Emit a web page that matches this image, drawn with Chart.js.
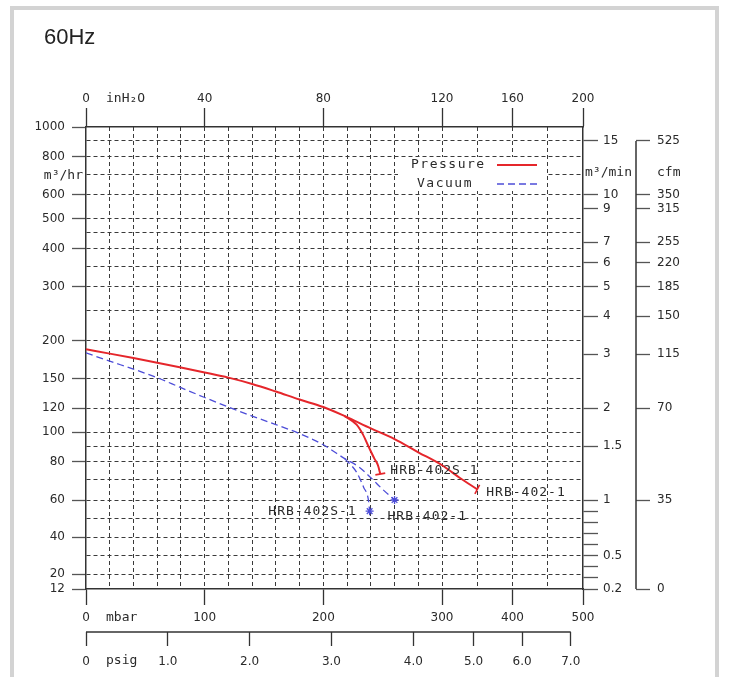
<!DOCTYPE html>
<html><head><meta charset="utf-8">
<script src="https://cdn.jsdelivr.net/npm/chart.js@4/dist/chart.umd.min.js"></script>
<style>html,body{margin:0;padding:0;background:#fff;} canvas{display:block;}</style>
</head><body>
<canvas id="c" width="729" height="677"></canvas>
<script>
// ---------- data ----------
const titleText = '60Hz';
const mbarGrid = [0,20,40,60,80,100,120,140,160,180,200,220,240,260,280,300,350,400,450,500];
const mbarLabels = [0,100,200,300,400,500];
const inh2oLabels = [0,40,80,120,160,200];
const psigLabels = [0,1,2,3,4,5,6,7];
const flowGrid = [1000,900,800,700,600,500,450,400,350,300,250,200,150,120,100,90,80,70,60,50,40,30,20,12];
const flowLabels = [1000,800,600,500,400,300,200,150,120,100,80,60,40,20,12];
const m3minTicks = [15,10,9,7,6,5,4,3,2,1.5,1,0.9,0.8,0.7,0.6,0.5,0.4,0.3,0.2];
const m3minLabels = [15,10,9,7,6,5,4,3,2,1.5,1,0.5,0.2];
const cfmAt = [15,10,9,7,6,5,4,3,2,1,0.2];
const cfmLabels = ['525','350','315','255','220','185','150','115','70','35','0'];

const legendNames = ['Pressure','Vacuum'];
const curveNames = ['HRB-402-1','HRB-402S-1','HRB-402-1','HRB-402S-1'];

// pressure, HRB-402-1 (mbar -> m3/hr)
const pressure402Mbar = [0,20,40,60,80,100,120,140,160,180,200,218,240,260,280,300,325,350];
const pressure402Flow = [187,181,175,169,163,157,151,144,136,128,121,113,103,95,86,78,71,65];
// pressure, HRB-402S-1
const pressure402SMbar = [218,228,233,238,243,246,248];
const pressure402SFlow = [113,106,99,90,82,78,73];
// vacuum, HRB-402-1
const vacuum402Mbar = [0,20,40,60,80,100,120,140,160,180,200,218,230,240,250,260];
const vacuum402Flow = [182,171,161,151,140,130,121,113,106,99,91,82,77,71,65,60];
// vacuum, HRB-402S-1
const vacuum402SMbar = [218,228,234,238,239];
const vacuum402SFlow = [82,74,66,60,54];

// ---------- warped scales of the nomograph ----------
const mbarFwd = v => v <= 300 ? v : 300 + (v - 300) * 0.594;
const flowFwd = v => v >= 60 ? Math.log10(v) : Math.log10(60) - (60 - v) * 0.006072;
const WARP = {
  mbar: mbarFwd,
  inh2o: v => mbarFwd(v * 2.5),
  psig: v => mbarFwd(v * 68.948),
  flow: flowFwd,
  flowMin: v => flowFwd(v * 60)
};
class WarpScale extends Chart.LinearScale {
  getPixelForValue(value) {
    if (value === null || value === undefined || isNaN(value)) return NaN;
    const f = WARP[this.options.warp];
    const a = f(this.min), b = f(this.max);
    return this.getPixelForDecimal((f(value) - a) / (b - a));
  }
}
WarpScale.id = 'warp';
WarpScale.defaults = Chart.LinearScale.defaults;
Chart.register(WarpScale);

const RED = '#e5262b';
const BLUE = '#4d4dd8';
const AXIS = '#333';
const GRID = '#3a3a3a';
const TXT = '#2a2a2a';
const tickFont = {family: 'DejaVu Sans', size: 12};
const monoFont = '13px "DejaVu Sans Mono"';
const CLEAR = 'rgba(0,0,0,0)';

const mk = (xs, ys) => xs.map((x, i) => ({x, y: ys[i]}));
const endOnly = r => ctx => ctx.dataIndex === ctx.dataset.data.length - 1 ? r : 0;

const deco = {
  id: 'deco',
  beforeDraw(chart) {
    const c = chart.ctx;
    c.save();
    c.fillStyle = '#fff';
    c.fillRect(0, 0, chart.width, chart.height);
    c.strokeStyle = '#d3d3d3';
    c.lineWidth = 4;
    c.strokeRect(12, 8, 705, 720);
    c.restore();
  },
  afterDraw(chart) {
    const c = chart.ctx;
    const a = chart.chartArea;
    const s = chart.scales;
    c.save();
    // title
    c.fillStyle = '#222';
    c.font = '22px "Liberation Sans"';
    c.textBaseline = 'alphabetic';
    c.textAlign = 'left';
    c.fillText(titleText, 44, 44);

    // psig axis line and cfm axis line
    c.strokeStyle = AXIS; c.lineWidth = 1.5;
    c.beginPath();
    c.moveTo(s.x3.getPixelForValue(0), s.x3.top);
    c.lineTo(s.x3.getPixelForValue(7), s.x3.top);
    c.stroke();
    c.beginPath();
    c.moveTo(s.y3.left, s.y3.getPixelForValue(15));
    c.lineTo(s.y3.left, s.y3.getPixelForValue(0.2));
    c.stroke();

    // unit labels
    c.fillStyle = TXT;
    c.font = monoFont;
    c.textBaseline = 'middle';
    c.fillText('inH\u2082O', a.left + 20, 99);
    c.fillText('mbar', a.left + 20, 618);
    c.fillText('psig', a.left + 20, 661);
    c.fillText('m\u00b3/min', a.right + 2, 173);
    c.fillText('cfm', s.y3.left + 21, 173);
    c.textAlign = 'right';
    c.fillText('m\u00b3/hr', a.left - 3, 176);

    // legend
    c.fillStyle = '#fff';
    c.fillRect(398, 157, 148, 34);
    c.fillStyle = TXT;
    c.textAlign = 'left';
    c.letterSpacing = '1.5px';
    c.fillText(legendNames[0], 411, 165);
    c.fillText(legendNames[1], 417, 184);
    c.letterSpacing = '0px';
    c.lineWidth = 2; c.strokeStyle = RED;
    c.beginPath(); c.moveTo(497, 165); c.lineTo(537, 165); c.stroke();
    c.lineWidth = 1.3; c.strokeStyle = BLUE; c.setLineDash([7, 4]);
    c.beginPath(); c.moveTo(497, 184); c.lineTo(539, 184); c.stroke();
    c.setLineDash([]);

    // curve end labels
    c.fillStyle = TXT;
    c.letterSpacing = '1px';
    const offs = [[9, 3, 'left'], [10, -3, 'left'], [-7, 17, 'left'], [-13, 0, 'right']];
    chart.data.datasets.forEach((ds, i) => {
      const pts = chart.getDatasetMeta(i).data;
      const p = pts[pts.length - 1];
      c.textAlign = offs[i][2];
      c.fillText(curveNames[i], p.x + offs[i][0], p.y + offs[i][1]);
    });
    c.restore();
  }
};

const inList = (list, v) => list.some(x => Math.abs(x - v) < 1e-9);

new Chart(document.getElementById('c'), {
  type: 'line',
  data: {
    datasets: [
      {label: 'Pressure HRB-402-1', data: mk(pressure402Mbar, pressure402Flow),
       borderColor: RED, borderWidth: 2, pointStyle: 'line', rotation: 118,
       pointRadius: endOnly(5), pointBorderColor: RED, pointBorderWidth: 1.6},
      {label: 'Pressure HRB-402S-1', data: mk(pressure402SMbar, pressure402SFlow),
       borderColor: RED, borderWidth: 2, pointStyle: 'line', rotation: -10,
       pointRadius: endOnly(5), pointBorderColor: RED, pointBorderWidth: 1.6},
      {label: 'Vacuum HRB-402-1', data: mk(vacuum402Mbar, vacuum402Flow),
       borderColor: BLUE, borderWidth: 1.3, borderDash: [7, 4], pointStyle: 'star',
       pointRadius: endOnly(4), pointBorderColor: BLUE, pointBorderWidth: 1.3},
      {label: 'Vacuum HRB-402S-1', data: mk(vacuum402SMbar, vacuum402SFlow),
       borderColor: BLUE, borderWidth: 1.3, borderDash: [7, 4], pointStyle: 'star',
       pointRadius: endOnly(4), pointBorderColor: BLUE, pointBorderWidth: 1.3}
    ].map(d => Object.assign({fill: false, cubicInterpolationMode: 'monotone', pointHoverRadius: 0}, d))
  },
  options: {
    responsive: false,
    animation: false,
    devicePixelRatio: 1,
    events: [],
    layout: {padding: 0},
    plugins: {legend: {display: false}, tooltip: {enabled: false}, title: {display: false}},
    scales: {
      x: {
        type: 'warp', warp: 'mbar', position: 'bottom', min: 0, max: 500, bounds: 'data', weight: 0,
        afterBuildTicks: sc => { sc.ticks = mbarGrid.map(v => ({value: v})); },
        afterFit: sc => { sc.height = 43; },
        ticks: {autoSkip: false, maxRotation: 0, padding: 6, color: TXT, font: tickFont,
                callback: v => inList(mbarLabels, v) ? String(v) : ''},
        grid: {drawOnChartArea: true, tickLength: 16, lineWidth: 1,
               color: ctx => (ctx.tick && (ctx.tick.value === 0 || ctx.tick.value === 500)) ? CLEAR : GRID,
               tickColor: ctx => (ctx.tick && inList(mbarLabels, ctx.tick.value)) ? AXIS : CLEAR,
               tickWidth: 1.3, tickBorderDash: []},
        border: {display: true, color: AXIS, width: 1.5, dash: ctx => ctx.type === 'tick' ? [4, 3] : []}
      },
      x3: {
        type: 'warp', warp: 'psig', position: 'bottom', min: 0, max: 500 / 68.948, bounds: 'data', weight: 1,
        afterBuildTicks: sc => { sc.ticks = psigLabels.map(v => ({value: v})); },
        afterFit: sc => { sc.height = 45; },
        ticks: {autoSkip: false, maxRotation: 0, padding: 9, color: TXT, font: tickFont,
                callback: v => v === 0 ? '0' : v.toFixed(1)},
        grid: {drawOnChartArea: false, tickLength: 14, tickColor: AXIS, tickWidth: 1.3},
        border: {display: false}
      },
      x2: {
        type: 'warp', warp: 'inh2o', position: 'top', min: 0, max: 200, bounds: 'data',
        afterBuildTicks: sc => { sc.ticks = inh2oLabels.map(v => ({value: v})); },
        afterFit: sc => { sc.height = 127; },
        ticks: {autoSkip: false, maxRotation: 0, padding: 2, color: TXT, font: tickFont,
                callback: v => String(v)},
        grid: {drawOnChartArea: false, tickLength: 19, tickColor: AXIS, tickWidth: 1.3},
        border: {display: true, color: AXIS, width: 1.5}
      },
      y: {
        type: 'warp', warp: 'flow', position: 'left', min: 12, max: 1000, bounds: 'data',
        afterBuildTicks: sc => { sc.ticks = flowGrid.map(v => ({value: v})); },
        afterFit: sc => { sc.width = 86; },
        ticks: {autoSkip: false, padding: 7, color: TXT, font: tickFont,
                callback: v => inList(flowLabels, v) ? String(v) : ''},
        grid: {drawOnChartArea: true, tickLength: 14, lineWidth: 1,
               color: ctx => (ctx.tick && (ctx.tick.value === 1000 || ctx.tick.value === 12)) ? CLEAR : GRID,
               tickColor: ctx => (ctx.tick && inList(flowLabels, ctx.tick.value)) ? '#555' : CLEAR,
               tickWidth: 1.3, tickBorderDash: []},
        border: {display: true, color: AXIS, width: 1.5, dash: ctx => ctx.type === 'tick' ? [4, 3] : []}
      },
      y2: {
        type: 'warp', warp: 'flowMin', position: 'right', min: 0.2, max: 1000 / 60, bounds: 'data', weight: 0,
        afterBuildTicks: sc => { sc.ticks = m3minTicks.map(v => ({value: v})); },
        afterFit: sc => { sc.width = 53; },
        ticks: {autoSkip: false, padding: 5, color: TXT, font: tickFont,
                callback: v => inList(m3minLabels, v) ? String(v) : ''},
        grid: {drawOnChartArea: false, tickLength: 15, tickColor: '#555', tickWidth: 1.3},
        border: {display: true, color: AXIS, width: 1.5}
      },
      y3: {
        type: 'warp', warp: 'flowMin', position: 'right', min: 0.2, max: 1000 / 60, bounds: 'data', weight: 1,
        afterBuildTicks: sc => { sc.ticks = cfmAt.map(v => ({value: v})); },
        afterFit: sc => { sc.width = 93; },
        ticks: {autoSkip: false, padding: 7, color: TXT, font: tickFont,
                callback: (v, i) => cfmLabels[i]},
        grid: {drawOnChartArea: false, tickLength: 14, tickColor: '#555', tickWidth: 1.3},
        border: {display: false}
      }
    }
  },
  plugins: [deco]
});
</script>
</body></html>
